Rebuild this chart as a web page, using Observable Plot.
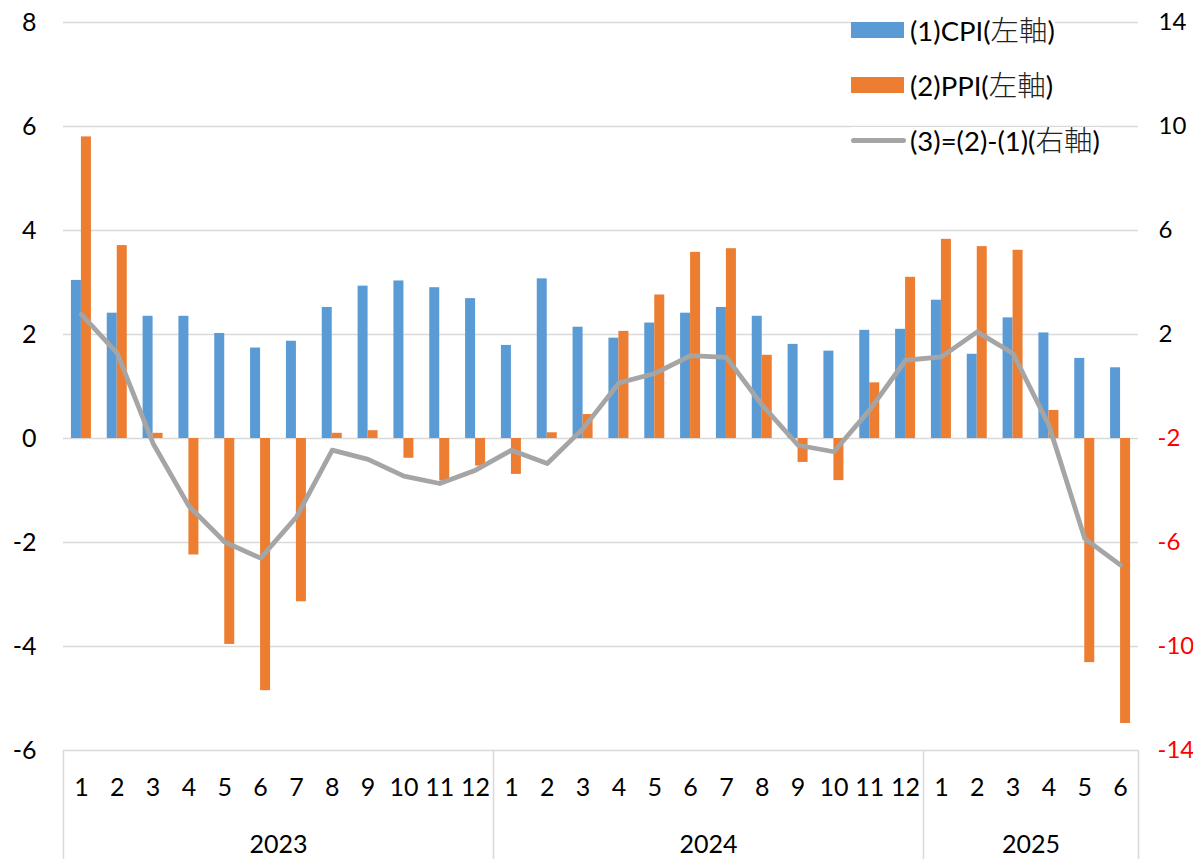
<!DOCTYPE html>
<html>
<head>
<meta charset="utf-8">
<script src="https://cdn.jsdelivr.net/npm/d3@7"></script>
<script src="https://cdn.jsdelivr.net/npm/@observablehq/plot@0.6"></script>
<style>
  html, body { margin: 0; padding: 0; background: #fff; }
  #wrap { position: relative; width: 1193px; height: 859px; font-family: Lato, "Noto Sans", sans-serif; overflow: hidden; }
  #chart { position: absolute; left: 0; top: 0; }
  .item { position: absolute; left: 851px; height: 26px; display: flex; align-items: center; white-space: nowrap;
          font-size: 27.5px; color: #000; background: #fff; line-height: 26px; }
  .sw { width: 53px; height: 16px; margin-right: 6px; }
  .ln { width: 55px; height: 5px; border-radius: 3px; margin-right: 4px; background: #a5a5a5; }
  .cjk { font-family: "Noto Sans CJK JP", sans-serif; font-weight: 300; font-size: 28.5px; color: #222; }
</style>
</head>
<body>
<div id="wrap">
  <div id="chart"></div>
  <div class="item" style="top:17px"><div class="sw" style="background:#5b9bd5"></div><span>(1)CPI(<span class="cjk">左軸</span>)</span></div>
  <div class="item" style="top:72px"><div class="sw" style="background:#ed7d31"></div><span>(2)PPI(<span class="cjk">左軸</span>)</span></div>
  <div class="item" style="top:127px"><div class="ln"></div><span>(3)=(2)-(1)(<span class="cjk">右軸</span>)</span></div>
</div>
<script>
// ---- data ----
const yearLabels = ["2023", "2024", "2025"];
const periodYears = [
  "2023","2023","2023","2023","2023","2023","2023","2023","2023","2023","2023","2023",
  "2024","2024","2024","2024","2024","2024","2024","2024","2024","2024","2024","2024",
  "2025","2025","2025","2025","2025","2025"
];
const monthLabels = [
  "1","2","3","4","5","6","7","8","9","10","11","12",
  "1","2","3","4","5","6","7","8","9","10","11","12",
  "1","2","3","4","5","6"
];
// (1) CPI, left axis
const cpi = [3.04, 2.41, 2.35, 2.35, 2.02, 1.74, 1.87, 2.52, 2.93, 3.03, 2.90, 2.69,
             1.79, 3.07, 2.14, 1.93, 2.22, 2.41, 2.52, 2.35, 1.81, 1.68, 2.08, 2.10,
             2.66, 1.62, 2.32, 2.03, 1.54, 1.36];
// (2) PPI, left axis
const ppi = [5.80, 3.71, 0.10, -2.24, -3.96, -4.85, -3.14, 0.10, 0.15, -0.38, -0.82, -0.53,
             -0.69, 0.11, 0.46, 2.06, 2.76, 3.58, 3.65, 1.60, -0.46, -0.81, 1.07, 3.10,
             3.83, 3.69, 3.62, 0.54, -4.31, -5.48];
// (3) = (2) - (1), right axis
const spread = [2.77, 1.27, -2.19, -4.60, -5.98, -6.60, -5.02, -2.45, -2.80, -3.45, -3.73, -3.22,
                -2.45, -2.96, -1.62, 0.14, 0.50, 1.19, 1.12, -0.72, -2.26, -2.51, -0.90, 1.01,
                1.14, 2.10, 1.27, -1.49, -5.85, -6.87];
const leftTicks = [-6, -4, -2, 0, 2, 4, 6, 8];
const rightTicks = [-14, -10, -6, -2, 2, 6, 10, 14];

// ---- layout ----
const W = 1193, H = 859;
const mL = 63, mR = 55, mT = 22, mB = 109;
const yDomain = [-6, 8];
const rightDomain = [-14, 14];
// map right-axis value to left-axis value (both axes share the same pixel range)
const toLeft = r => yDomain[0] + (r - rightDomain[0]) * (yDomain[1] - yDomain[0]) / (rightDomain[1] - rightDomain[0]);

const keys = monthLabels.map((m, i) => periodYears[i] + "-" + m);
const rows = keys.map((k, i) => ({
  key: k, month: monthLabels[i], year: periodYears[i],
  cpi: cpi[i], ppi: ppi[i], spread: spread[i], spreadL: toLeft(spread[i])
}));
const n = keys.length;
const step = (W - mL - mR) / n;
const padInner = 0.442;
const bw = step * (1 - padInner);

// year label positions (centre of each year's months)
const yearRows = yearLabels.map(y => {
  const idx = keys.map((k, i) => i).filter(i => periodYears[i] === y);
  const c = (idx[0] + idx[idx.length - 1]) / 2;
  const base = Math.floor(c);
  return { key: keys[base], year: y, dx: (c - base) * step };
});
// separator boundaries between years
const seps = [];
yearLabels.forEach(y => {
  const first = periodYears.indexOf(y);
  seps.push({ key: keys[first], dx: -step / 2 });
});
seps.push({ key: keys[n - 1], dx: step / 2 });
const pxPerUnit = (H - mT - mB) / (yDomain[1] - yDomain[0]);
const yBottom = yDomain[0] - mB / pxPerUnit;

const chart = Plot.plot({
  width: W, height: H,
  marginLeft: mL, marginRight: mR, marginTop: mT, marginBottom: mB,
  style: { fontFamily: "Lato, 'Noto Sans', sans-serif", fontSize: "25px", color: "#000", background: "transparent", overflow: "visible" },
  x: { type: "band", domain: keys, paddingInner: padInner, paddingOuter: padInner / 2, round: false, axis: null },
  y: { domain: yDomain, axis: null },
  marks: [
    Plot.ruleY(leftTicks, { y: d => d, stroke: "#d9d9d9", strokeWidth: 1.5 }),
    ...seps.map(s => Plot.ruleX([s], { x: "key", dx: s.dx, y1: yDomain[0], y2: yBottom, stroke: "#d9d9d9", strokeWidth: 1.5 })),
    Plot.barY(rows, { x: "key", y: "cpi", fill: "#5b9bd5", insetRight: bw / 2 }),
    Plot.barY(rows, { x: "key", y: "ppi", fill: "#ed7d31", insetLeft: bw / 2 }),
    Plot.line(rows, { x: "key", y: "spreadL", stroke: "#a5a5a5", strokeWidth: 4.8, strokeLinejoin: "round", strokeLinecap: "round" }),
    Plot.text(leftTicks, { y: d => d, text: d => String(d), frameAnchor: "left", textAnchor: "end", dx: -27, fill: "#000", fontSize: 25 }),
    Plot.text(rightTicks.filter(d => d >= 0), { y: d => toLeft(d), text: d => String(d), frameAnchor: "right", textAnchor: "start", dx: 20, fill: "#000", fontSize: 24 }),
    Plot.text(rightTicks.filter(d => d < 0), { y: d => toLeft(d), text: d => String(d), frameAnchor: "right", textAnchor: "start", dx: 19, fill: "#ff0000", fontSize: 24 }),
    Plot.text(rows, { x: "key", text: "month", frameAnchor: "bottom", dy: 45, fill: "#000", fontSize: 25 }),
    ...yearRows.map(r => Plot.text([r], { x: "key", text: "year", frameAnchor: "bottom", dy: 102, dx: r.dx, fill: "#000", fontSize: 25 }))
  ]
});
document.getElementById("chart").appendChild(chart);
</script>
</body>
</html>
